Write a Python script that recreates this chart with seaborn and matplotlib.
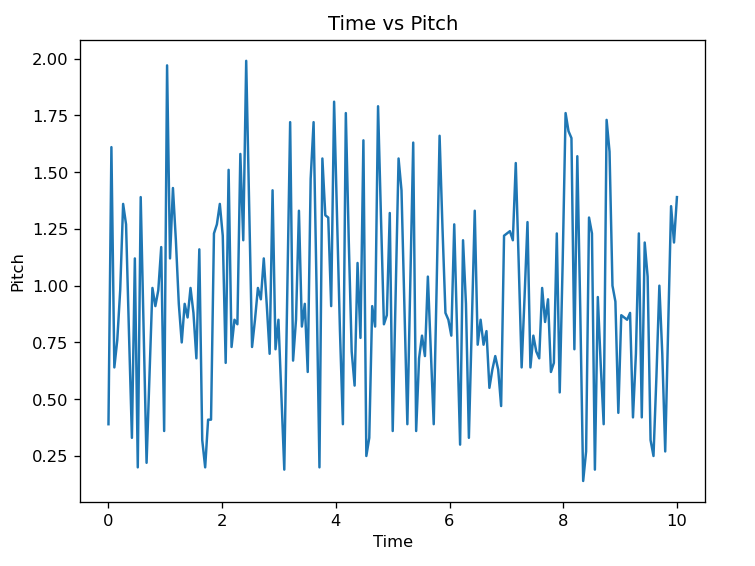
import numpy as np
import pandas as pd
import matplotlib
matplotlib.use("Agg")
import matplotlib.pyplot as plt
import seaborn as sns

pitch = [
    0.39, 1.61, 0.64, 0.76, 0.98, 1.36, 1.27, 0.79, 0.33, 1.12,
    0.20, 1.39, 0.80, 0.22, 0.60, 0.99, 0.91, 0.98, 1.17, 0.36,
    1.97, 1.12, 1.43, 1.20, 0.92, 0.75, 0.92, 0.86, 0.99, 0.88,
    0.68, 1.16, 0.32, 0.20, 0.41, 0.41, 1.23, 1.27, 1.36, 1.22,
    0.66, 1.51, 0.73, 0.85, 0.83, 1.58, 1.20, 1.99, 1.35, 0.73,
    0.85, 0.99, 0.94, 1.12, 0.92, 0.70, 1.42, 0.72, 0.85, 0.52,
    0.19, 0.95, 1.72, 0.67, 0.85, 1.33, 0.82, 0.92, 0.62, 1.47,
    1.72, 1.00, 0.20, 1.56, 1.31, 1.30, 0.91, 1.81, 1.30, 0.80,
    0.39, 1.76, 1.20, 0.71, 0.56, 1.10, 0.77, 1.64, 0.25, 0.33,
    0.91, 0.82, 1.79, 1.30, 0.83, 0.87, 1.32, 0.36, 0.95, 1.56,
    1.42, 0.90, 0.39, 1.00, 1.63, 0.36, 0.68, 0.78, 0.69, 1.04,
    0.72, 0.39, 1.00, 1.66, 1.25, 0.88, 0.85, 0.78, 1.27, 0.78,
    0.30, 1.20, 0.92, 0.33, 0.83, 1.33, 0.74, 0.85, 0.74, 0.80,
    0.55, 0.63, 0.69, 0.63, 0.47, 1.22, 1.23, 1.24, 1.20, 1.54,
    1.10, 0.64, 0.95, 1.28, 0.64, 0.78, 0.71, 0.68, 0.99, 0.84,
    0.94, 0.62, 0.66, 1.23, 0.53, 1.10, 1.76, 1.68, 1.65, 0.72,
    1.57, 0.90, 0.14, 0.27, 1.30, 1.23, 0.19, 0.95, 0.65, 0.39,
    1.73, 1.59, 1.00, 0.93, 0.44, 0.87, 0.86, 0.85, 0.88, 0.42,
    0.70, 1.23, 0.42, 1.19, 1.04, 0.32, 0.25, 0.60, 1.00, 0.70,
    0.27, 0.80, 1.35, 1.19, 1.39,
]
time = np.linspace(0, 10, len(pitch))

df = pd.DataFrame({"Time": time, "Pitch": pitch})

fig, ax = plt.subplots(figsize=(6.4, 4.8), dpi=118)
fig.subplots_adjust(left=0.106, right=0.934, top=0.929, bottom=0.113)
sns.lineplot(data=df, x="Time", y="Pitch", ax=ax, color="#1f77b4", linewidth=1.5)
ax.set_title("Time vs Pitch")
ax.set_xlabel("Time")
ax.set_ylabel("Pitch")
fig.savefig("out.png", dpi=118)
